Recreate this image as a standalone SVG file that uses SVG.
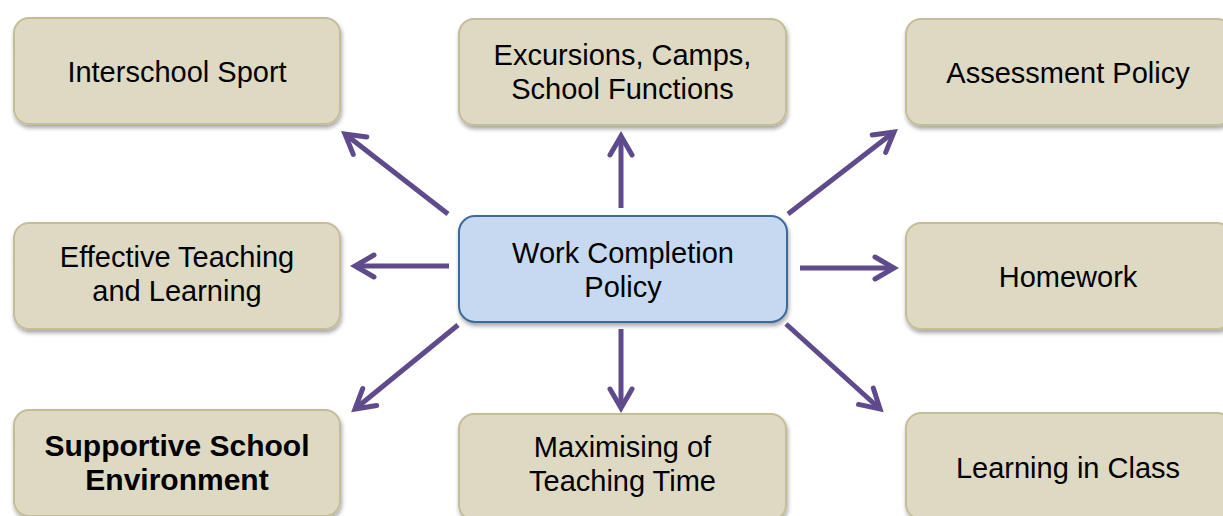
<svg xmlns="http://www.w3.org/2000/svg" width="1223" height="516" viewBox="0 0 1223 516">
  <defs>
    <filter id="shadow" x="-10%" y="-10%" width="120%" height="130%">
      <feDropShadow dx="1" dy="3" stdDeviation="2" flood-color="#000" flood-opacity="0.35"/>
    </filter>
    <marker id="chevron" markerUnits="userSpaceOnUse" viewBox="-26 -16 32 32" refX="0" refY="0" markerWidth="32" markerHeight="32" orient="auto">
      <path d="M-19,-11 L0,0 L-19,11" fill="none" stroke="#5f4a8b" stroke-width="5" stroke-linecap="round" stroke-linejoin="miter"/>
    </marker>
  </defs>
  <style>
    .box { fill: #ddd9c3; stroke: #c4bd97; stroke-width: 2; filter: url(#shadow); }
    .hub { fill: #c6d9f1; stroke: #3d6a9a; stroke-width: 2; filter: url(#shadow); }
    .label { font-family: "Liberation Sans", Arial, sans-serif; font-size: 29px; fill: #000; text-anchor: middle; }
    .bold { font-weight: bold; font-size: 30px; }
    .arrow { fill: none; stroke: #5f4a8b; stroke-width: 5; marker-end: url(#chevron); }
  </style>
  <rect width="1223" height="516" fill="#fff"/>

  <g id="connectors">
    <path class="arrow" d="M448,214 L345,134"/>
    <path class="arrow" d="M621,208 L621,136"/>
    <path class="arrow" d="M788,214 L894,132"/>
    <path class="arrow" d="M449,266 L355,266"/>
    <path class="arrow" d="M800,268 L894,268"/>
    <path class="arrow" d="M458,325 L355,409"/>
    <path class="arrow" d="M621,329 L621,408"/>
    <path class="arrow" d="M786,324 L880,409"/>
  </g>

  <g id="node-interschool-sport">
    <rect class="box" x="14" y="18" width="326" height="106" rx="15"/>
    <text class="label" x="177" y="82">Interschool Sport</text>
  </g>
  <g id="node-excursions">
    <rect class="box" x="459" y="19" width="327" height="106" rx="15"/>
    <text class="label" x="622.5" y="65">Excursions, Camps,</text>
    <text class="label" x="622.5" y="99">School Functions</text>
  </g>
  <g id="node-assessment-policy">
    <rect class="box" x="906" y="19" width="326" height="106" rx="15"/>
    <text class="label" x="1068" y="83">Assessment Policy</text>
  </g>
  <g id="node-effective-teaching">
    <rect class="box" x="14" y="223" width="326" height="106" rx="15"/>
    <text class="label" x="177" y="267">Effective Teaching</text>
    <text class="label" x="177" y="301">and Learning</text>
  </g>
  <g id="node-work-completion">
    <rect class="hub" x="459" y="216" width="328" height="106" rx="16"/>
    <text class="label" x="623" y="263">Work Completion</text>
    <text class="label" x="623" y="297">Policy</text>
  </g>
  <g id="node-homework">
    <rect class="box" x="906" y="223" width="326" height="106" rx="15"/>
    <text class="label" x="1068" y="287">Homework</text>
  </g>
  <g id="node-supportive-environment">
    <rect class="box" x="14" y="410" width="326" height="106" rx="15"/>
    <text class="label bold" x="177" y="456">Supportive School</text>
    <text class="label bold" x="177" y="490">Environment</text>
  </g>
  <g id="node-maximising-time">
    <rect class="box" x="459" y="414" width="327" height="106" rx="15"/>
    <text class="label" x="622.5" y="457">Maximising of</text>
    <text class="label" x="622.5" y="491">Teaching Time</text>
  </g>
  <g id="node-learning-in-class">
    <rect class="box" x="906" y="413" width="326" height="106" rx="15"/>
    <text class="label" x="1068" y="478">Learning in Class</text>
  </g>
</svg>
